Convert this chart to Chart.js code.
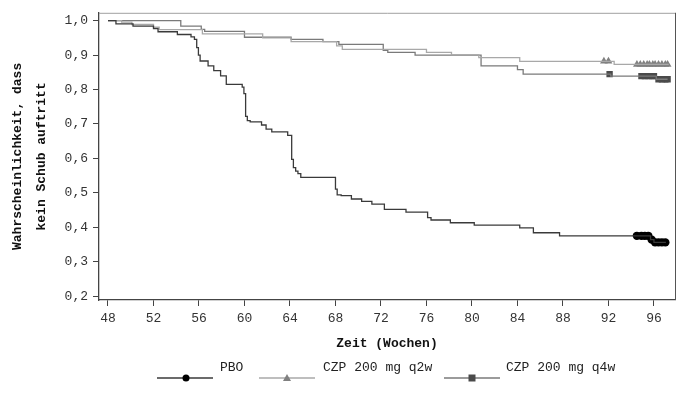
<!DOCTYPE html>
<html>
<head>
<meta charset="utf-8">
<script src="https://cdn.jsdelivr.net/npm/chart.js@4/dist/chart.umd.min.js"></script>
<style>
  html, body { margin: 0; padding: 0; background: #fff; }
  #wrap { width: 695px; height: 393px; }
</style>
</head>
<body>
<div id="wrap"><canvas id="myChart" width="695" height="393"></canvas></div>
<script>
// Kaplan-Meier Kurven (Werte aus der Abbildung geschaetzt)
const seriesNames = ['PBO', 'CZP 200 mg q2w', 'CZP 200 mg q4w'];

const pboWeeks = [48.0, 48.7, 50.2, 52.0, 52.4, 54.1, 55.3, 55.6, 55.8, 55.95, 56.1, 56.8, 57.3, 57.9, 58.4, 59.8, 59.95, 60.1, 60.25, 60.5, 61.5, 61.9, 62.4, 63.8, 64.15, 64.3, 64.5, 64.7, 64.95, 68.0, 68.15, 68.5, 69.4, 70.3, 71.2, 72.3, 74.2, 76.1, 76.4, 78.1, 80.2, 84.2, 85.4, 87.7, 95.7, 96.0, 97.05];
const pboSurv = [1.0, 0.991, 0.984, 0.977, 0.968, 0.960, 0.953, 0.946, 0.922, 0.900, 0.883, 0.869, 0.855, 0.840, 0.815, 0.807, 0.788, 0.722, 0.710, 0.706, 0.697, 0.685, 0.677, 0.667, 0.597, 0.573, 0.563, 0.556, 0.545, 0.511, 0.494, 0.492, 0.482, 0.475, 0.467, 0.452, 0.444, 0.428, 0.421, 0.413, 0.406, 0.398, 0.384, 0.375, 0.364, 0.356, 0.356];

const q2wWeeks = [48.0, 49.2, 50.1, 52.0, 52.5, 56.3, 61.6, 64.1, 68.1, 68.6, 76.0, 78.2, 80.6, 84.2, 92.5, 97.3];
const q2wSurv = [1.0, 0.996, 0.989, 0.981, 0.974, 0.962, 0.950, 0.939, 0.927, 0.917, 0.908, 0.901, 0.893, 0.882, 0.873, 0.873];

const q4wWeeks = [48.0, 54.4, 56.2, 56.5, 60.0, 64.1, 66.9, 68.3, 72.2, 72.6, 75.0, 80.8, 84.0, 84.5, 92.2, 96.2, 97.2];
const q4wSurv = [1.0, 0.984, 0.975, 0.969, 0.952, 0.946, 0.939, 0.931, 0.914, 0.908, 0.900, 0.869, 0.858, 0.845, 0.839, 0.830, 0.830];

// zensierte Beobachtungen
const pboCensWeeks = [94.5, 94.9, 95.2, 95.5, 95.8, 96.1, 96.4, 96.7, 97.0];
const pboCensSurv = [0.375, 0.375, 0.375, 0.375, 0.364, 0.356, 0.356, 0.356, 0.356];
const q2wCensWeeks = [91.6, 92.0, 94.5, 94.8, 95.1, 95.4, 95.6, 95.9, 96.1, 96.4, 96.7, 97.0, 97.2];
const q2wCensSurv = [0.882, 0.882, 0.873, 0.873, 0.873, 0.873, 0.873, 0.873, 0.873, 0.873, 0.873, 0.873, 0.873];
const q4wCensWeeks = [92.1, 94.9, 95.2, 95.5, 95.8, 96.0, 96.4, 96.7, 97.0, 97.2];
const q4wCensSurv = [0.845, 0.839, 0.839, 0.839, 0.839, 0.839, 0.830, 0.830, 0.830, 0.830];

const xTicks = [48, 52, 56, 60, 64, 68, 72, 76, 80, 84, 88, 92, 96];
const yTicks = [0.2, 0.3, 0.4, 0.5, 0.6, 0.7, 0.8, 0.9, 1.0];

const FONT = "'Liberation Mono', 'DejaVu Sans Mono', monospace";
const lineColors = ['#3a3a3a', '#a8a8a8', '#7a7a7a'];
const markColors = ['#000000', '#808080', '#4a4a4a'];
const markStyles = ['circle', 'triangle', 'rect'];

function toPoints(xs, ys) {
    return xs.map((x, i) => ({ x: x, y: ys[i] }));
}

function curve(label, xs, ys, idx) {
    return {
        label: label,
        data: toPoints(xs, ys),
        borderColor: lineColors[idx],
        borderWidth: 1.3,
        stepped: true,
        pointRadius: 0,
        fill: false
    };
}

function censored(label, xs, ys, idx) {
    return {
        label: label + ' zensiert',
        data: toPoints(xs, ys),
        showLine: false,
        pointStyle: markStyles[idx],
        pointRadius: idx === 0 ? 4.2 : 4.5,
        pointBackgroundColor: markColors[idx],
        pointBorderColor: markColors[idx],
        pointBorderWidth: 0
    };
}

// Rahmen oben/rechts und Legende unten
const extrasPlugin = {
    id: 'extras',
    afterDraw(chart) {
        const ctx = chart.ctx;
        const a = chart.chartArea;
        ctx.save();
        ctx.strokeStyle = '#a0a0a0';
        ctx.lineWidth = 1;
        ctx.beginPath();
        ctx.moveTo(a.left, a.top + 0.5);
        ctx.lineTo(a.right + 0.5, a.top + 0.5);
        ctx.stroke();
        ctx.strokeStyle = '#555';
        ctx.beginPath();
        ctx.moveTo(a.right + 0.5, a.top);
        ctx.lineTo(a.right + 0.5, a.bottom);
        ctx.stroke();

        const items = [
            { x0: 157, x1: 213, m: 186, tx: 220 },
            { x0: 259, x1: 315, m: 287, tx: 323 },
            { x0: 444, x1: 500, m: 472, tx: 506 }
        ];
        const ly = 378;
        ctx.font = '13px ' + FONT;
        ctx.textBaseline = 'middle';
        items.forEach((it, i) => {
            ctx.strokeStyle = lineColors[i];
            ctx.lineWidth = 1.3;
            ctx.beginPath();
            ctx.moveTo(it.x0, ly);
            ctx.lineTo(it.x1, ly);
            ctx.stroke();
            ctx.fillStyle = markColors[i];
            ctx.beginPath();
            if (i === 0) {
                ctx.arc(it.m, ly, 3.5, 0, Math.PI * 2);
            } else if (i === 1) {
                ctx.moveTo(it.m, ly - 4);
                ctx.lineTo(it.m + 4, ly + 3);
                ctx.lineTo(it.m - 4, ly + 3);
                ctx.closePath();
            } else {
                ctx.rect(it.m - 3.5, ly - 3.5, 7, 7);
            }
            ctx.fill();
            ctx.fillStyle = '#222';
            ctx.fillText(seriesNames[i], it.tx, 368);
        });
        ctx.restore();
    }
};

const ctx = document.getElementById('myChart').getContext('2d');
const myChart = new Chart(ctx, {
    type: 'line',
    data: {
        datasets: [
            curve(seriesNames[0], pboWeeks, pboSurv, 0),
            curve(seriesNames[1], q2wWeeks, q2wSurv, 1),
            curve(seriesNames[2], q4wWeeks, q4wSurv, 2),
            censored(seriesNames[0], pboCensWeeks, pboCensSurv, 0),
            censored(seriesNames[1], q2wCensWeeks, q2wCensSurv, 1),
            censored(seriesNames[2], q4wCensWeeks, q4wCensSurv, 2)
        ]
    },
    options: {
        responsive: false,
        animation: false,
        devicePixelRatio: 1,
        layout: { padding: { left: 0, right: 20, top: 8, bottom: 40 } },
        plugins: {
            legend: { display: false },
            tooltip: { enabled: false }
        },
        scales: {
            x: {
                type: 'linear',
                min: 47.21,
                max: 97.85,
                afterFit: s => { s.height = 53; },
                afterBuildTicks: s => { s.ticks = xTicks.map(v => ({ value: v })); },
                border: { color: '#444', width: 1.3 },
                grid: { drawOnChartArea: false, drawTicks: true, tickLength: 6, color: '#444' },
                ticks: {
                    color: '#333',
                    font: { family: FONT, size: 13 },
                    padding: 5,
                    maxRotation: 0,
                    callback: v => String(v)
                },
                title: {
                    display: true,
                    text: 'Zeit (Wochen)',
                    color: '#111',
                    font: { family: FONT, size: 13, weight: 'bold' },
                    padding: { top: 0, bottom: 1 }
                }
            },
            y: {
                type: 'linear',
                min: 0.1886,
                max: 1.023,
                afterFit: s => { s.width = 99; },
                afterBuildTicks: s => { s.ticks = yTicks.map(v => ({ value: v })); },
                border: { color: '#444', width: 1.3 },
                grid: { drawOnChartArea: false, drawTicks: true, tickLength: 6, color: '#444' },
                ticks: {
                    color: '#333',
                    font: { family: FONT, size: 13 },
                    padding: 5,
                    callback: v => v.toFixed(1).replace('.', ',')
                },
                title: {
                    display: true,
                    text: ['Wahrscheinlichkeit, dass', 'kein Schub auftritt'],
                    color: '#111',
                    font: { family: FONT, size: 13, weight: 'bold', lineHeight: 1.85 },
                    padding: { top: 6, bottom: 0 }
                }
            }
        }
    },
    plugins: [extrasPlugin]
});
</script>
</body>
</html>
